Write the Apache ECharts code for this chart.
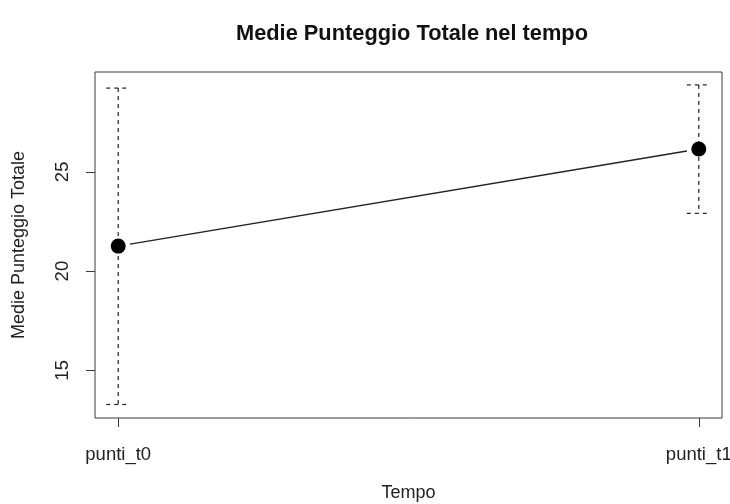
<!DOCTYPE html>
<html>
<head>
<meta charset="utf-8">
<script src="https://cdn.jsdelivr.net/npm/echarts@6/dist/echarts.min.js"></script>
<style>html,body{margin:0;padding:0;background:#fff}#c{width:730px;height:504px}</style>
</head>
<body>
<div id="c"></div>
<script>
const categories = ['punti_t0', 'punti_t1'];
const means = [21.26, 26.15];
const lower = [13.28, 22.91];
const upper = [29.22, 29.38];
const yTicks = [15, 20, 25];
const xTicks = [0, 1];

const chart = echarts.init(document.getElementById('c'), null, {renderer: 'canvas'});
const font = '"Liberation Sans", Arial, sans-serif';
const pts = means.map((m, i) => [i, m]);
const bars = means.map((m, i) => [i, lower[i], upper[i]]);

chart.setOption({
  animation: false,
  backgroundColor: '#fff',
  title: {
    text: 'Medie Punteggio Totale nel tempo',
    left: 231, top: 18,
    textStyle: {fontFamily: font, fontSize: 21.8, fontWeight: 'bold', color: '#111'}
  },
  grid: {
    left: 95, right: 8, top: 72, bottom: 86,
    show: true, borderColor: '#3a3a3a', borderWidth: 1, backgroundColor: 'transparent',
    outerBoundsMode: 'none'
  },
  xAxis: {
    type: 'value', min: -0.04, max: 1.04,
    name: 'Tempo', nameLocation: 'middle', nameGap: 66,
    nameTextStyle: {fontFamily: font, fontSize: 18, color: '#222'},
    axisLine: {show: false, onZero: false},
    splitLine: {show: false},
    axisTick: {show: true, length: 9, customValues: xTicks, lineStyle: {color: '#3a3a3a'}},
    axisLabel: {customValues: xTicks, margin: 27, fontFamily: font, fontSize: 18.5, color: '#222',
      formatter: v => categories[Math.round(v)]}
  },
  yAxis: {
    type: 'value', min: 12.6, max: 30.03,
    name: 'Medie Punteggio Totale', nameLocation: 'middle', nameGap: 67,
    nameTextStyle: {fontFamily: font, fontSize: 18, color: '#222'},
    axisLine: {show: false, onZero: false},
    splitLine: {show: false},
    axisTick: {show: true, length: 9, customValues: yTicks, lineStyle: {color: '#3a3a3a'}},
    axisLabel: {customValues: yTicks, rotate: 90, margin: 23, fontFamily: font, fontSize: 18.5, color: '#222'}
  },
  series: [
    {
      type: 'custom',
      data: bars,
      z: 2,
      renderItem: function (params, api) {
        const x = api.value(0);
        const lo = api.coord([x, api.value(1)]);
        const hi = api.coord([x, api.value(2)]);
        const hw = 12;
        const style = {stroke: '#222', lineWidth: 1.2, lineDash: [4, 4], fill: null};
        return {
          type: 'group',
          children: [
            {type: 'line', shape: {x1: hi[0], y1: hi[1], x2: lo[0], y2: lo[1]}, style: style},
            {type: 'line', shape: {x1: hi[0] - hw, y1: hi[1], x2: hi[0] + hw, y2: hi[1]}, style: style},
            {type: 'line', shape: {x1: lo[0] - hw, y1: lo[1], x2: lo[0] + hw, y2: lo[1]}, style: style}
          ]
        };
      }
    },
    {
      type: 'custom',
      data: [[pts[0][0], pts[0][1], pts[1][0], pts[1][1]]],
      z: 3,
      renderItem: function (params, api) {
        const a = api.coord([api.value(0), api.value(1)]);
        const b = api.coord([api.value(2), api.value(3)]);
        const dx = b[0] - a[0], dy = b[1] - a[1];
        const len = Math.sqrt(dx * dx + dy * dy);
        const g = 12 / len;
        return {type: 'line', shape: {x1: a[0] + dx * g, y1: a[1] + dy * g, x2: b[0] - dx * g, y2: b[1] - dy * g},
          style: {stroke: '#222', lineWidth: 1.4}};
      }
    },
    {
      type: 'scatter',
      data: pts,
      z: 4,
      symbol: 'circle', symbolSize: 15,
      itemStyle: {color: '#000', opacity: 1}
    }
  ]
});
</script>
</body>
</html>
